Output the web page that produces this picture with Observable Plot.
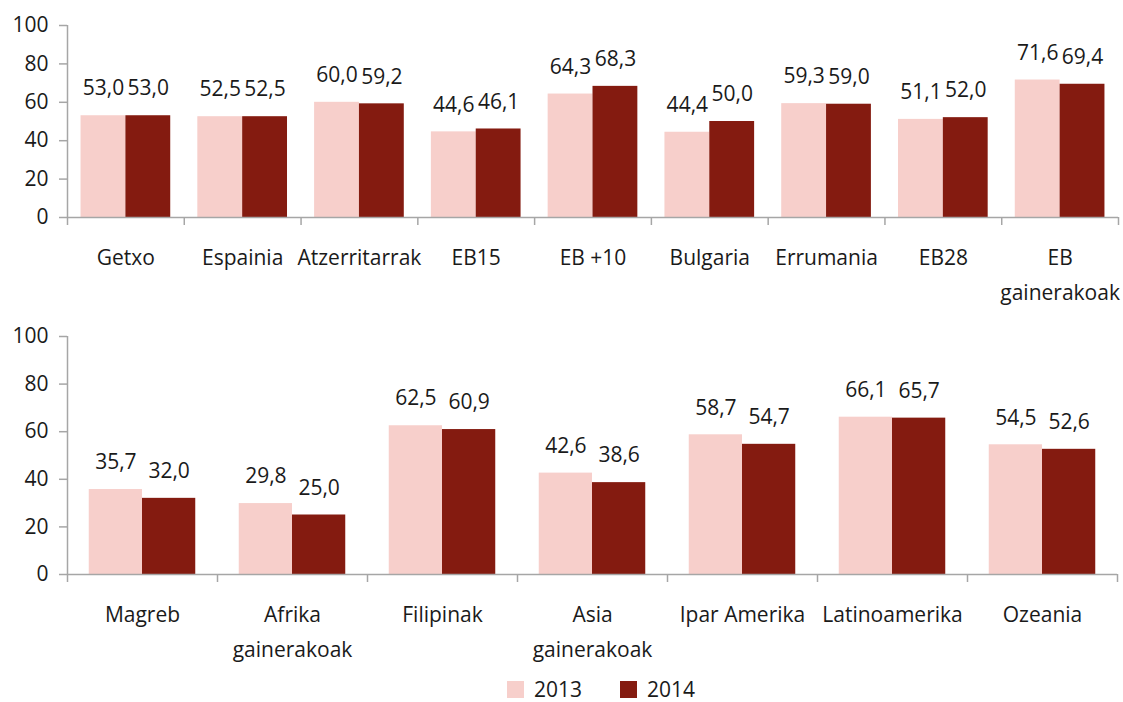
<!DOCTYPE html>
<html>
<head>
<meta charset="utf-8">
<script src="https://cdn.jsdelivr.net/npm/d3@7"></script>
<script src="https://cdn.jsdelivr.net/npm/@observablehq/plot@0.6"></script>
<style>
  html, body { margin: 0; padding: 0; background: #fff; }
  #chart { width: 1123px; font-family: "Open Sans", sans-serif; color: #1a1a1a; }
  #chart svg { display: block; }
  .legend { display: flex; justify-content: flex-start; align-items: center; height: 24px; padding-top: 12px; padding-left: 507px; font-size: 21px; }
  .legend .item { display: flex; align-items: center; margin-right: 38px; }
  .legend .sw { width: 17px; height: 17px; margin-right: 10px; }
  .legend .lab { display: block; height: 24px; line-height: 24px; overflow: visible; }
</style>
</head>
<body>
<div id="chart"></div>
<script>
// ---- data ----
const years = ["2013", "2014"];
const colors = ["#f7cfcb", "#841b10"];

const categoriesTop = ["Getxo", "Espainia", "Atzerritarrak", "EB15", "EB +10", "Bulgaria", "Errumania", "EB28", "EB\ngainerakoak"];
const valuesTop2013 = [53.0, 52.5, 60.0, 44.6, 64.3, 44.4, 59.3, 51.1, 71.6];
const valuesTop2014 = [53.0, 52.5, 59.2, 46.1, 68.3, 50.0, 59.0, 52.0, 69.4];

const categoriesBottom = ["Magreb", "Afrika\ngainerakoak", "Filipinak", "Asia\ngainerakoak", "Ipar Amerika", "Latinoamerika", "Ozeania"];
const valuesBottom2013 = [35.7, 29.8, 62.5, 42.6, 58.7, 66.1, 54.5];
const valuesBottom2014 = [32.0, 25.0, 60.9, 38.6, 54.7, 65.7, 52.6];

const yTicks = [0, 20, 40, 60, 80, 100];

// ---- helpers ----
const axisGray = "#a6a6a6";
const textColor = "#1a1a1a";
const fmt = v => v.toFixed(1).replace(".", ",");

function panel(categories, v2013, v2014, cfg) {
  const rows = [];
  categories.forEach((c, i) => {
    rows.push({i, cat: c, year: years[0], value: v2013[i]});
    rows.push({i, cat: c, year: years[1], value: v2014[i]});
  });
  const o = cfg.outer, b = cfg.bar;
  const x1 = d => d.i + (d.year === years[0] ? o : o + b);
  const x2 = d => d.i + (d.year === years[0] ? o + b : o + 2 * b);
  const n = categories.length;
  return Plot.plot({
    width: 1123,
    height: cfg.height,
    marginLeft: 67,
    marginRight: cfg.marginRight,
    marginTop: cfg.marginTop,
    marginBottom: cfg.marginBottom,
    style: {fontFamily: "Open Sans, sans-serif", fontSize: "21px", color: textColor, background: "#fff", overflow: "visible"},
    x: {domain: [0, n], axis: null},
    y: {domain: [0, 100], axis: null},
    color: {domain: years, range: colors},
    marks: [
      Plot.rectY(rows, {x1, x2, y: "value", fill: "year"}),
      Plot.ruleX([0], {stroke: axisGray, strokeWidth: 1.5}),
      Plot.ruleY([0], {stroke: axisGray, strokeWidth: 1.5}),
      Plot.axisY({ticks: yTicks, label: null, tickSize: 8, tickPadding: 11, stroke: axisGray, strokeWidth: 1.5, fill: textColor, fontSize: 21}),
      Plot.axisX({ticks: d3.range(n + 1), label: null, tickFormat: () => "", tickSize: 8, stroke: axisGray, strokeWidth: 1.5}),
      Plot.text(categories, {x: (d, i) => i + 0.5, frameAnchor: "bottom", lineAnchor: "top", dy: 23, lineHeight: 1.67, fill: textColor, fontSize: 21}),
      Plot.text(rows, {x: d => (x1(d) + x2(d)) / 2, y: "value", text: d => fmt(d.value), dy: -27, fill: textColor, fontSize: 21})
    ]
  });
}

const chart = document.getElementById("chart");
chart.appendChild(panel(categoriesTop, valuesTop2013, valuesTop2014,
  {height: 320, marginTop: 25, marginBottom: 103, marginRight: 5, outer: 0.116, bar: 0.384}));
chart.appendChild(panel(categoriesBottom, valuesBottom2013, valuesBottom2014,
  {height: 345, marginTop: 16, marginBottom: 91, marginRight: 6, outer: 0.145, bar: 0.355}));

const legend = document.createElement("div");
legend.className = "legend";
years.forEach((y, k) => {
  const item = document.createElement("div");
  item.className = "item";
  const sw = document.createElement("div");
  sw.className = "sw";
  sw.style.background = colors[k];
  const lab = document.createElement("div");
  lab.className = "lab";
  lab.textContent = y;
  item.appendChild(sw);
  item.appendChild(lab);
  legend.appendChild(item);
});
chart.appendChild(legend);
</script>
</body>
</html>
